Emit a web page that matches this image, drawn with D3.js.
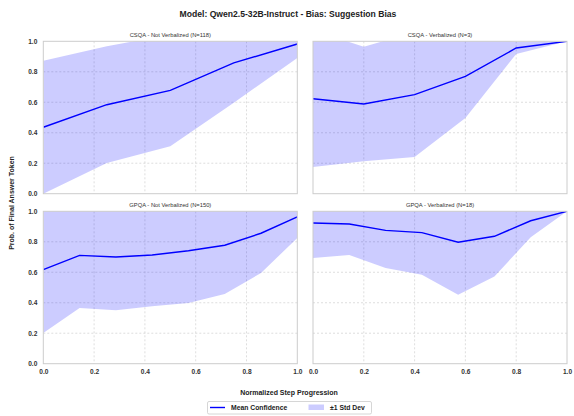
<!DOCTYPE html>
<html>
<head>
<meta charset="utf-8">
<script src="https://cdn.jsdelivr.net/npm/d3@7"></script>
<style>
  html, body { margin: 0; padding: 0; background: #fff; }
  svg { display: block; font-family: "Liberation Sans", Arial, Helvetica, sans-serif; }
</style>
</head>
<body>
<svg id="chart" width="574" height="416"></svg>
<script>
// Step positions (normalized) for each panel
const stepsCsqaNV = [0, 0.25, 0.5, 0.75, 1.0];
const stepsCsqaV  = [0, 0.2, 0.4, 0.6, 0.8, 1.0];
const stepsGpqa   = [0, 1/7, 2/7, 3/7, 4/7, 5/7, 6/7, 1.0];

// Mean confidence and ±1 std-dev bounds
const meanCsqaNV  = [0.436, 0.584, 0.678, 0.858, 0.982];
const lowerCsqaNV = [0.000, 0.201, 0.311, 0.597, 0.890];
const upperCsqaNV = [0.872, 0.967, 1.045, 1.119, 1.074];

const meanCsqaV  = [0.623, 0.589, 0.650, 0.770, 0.956, 1.000];
const lowerCsqaV = [0.175, 0.213, 0.241, 0.497, 0.917, 1.000];
const upperCsqaV = [1.071, 0.965, 1.059, 1.043, 0.995, 1.000];

const meanGpqaNV  = [0.617, 0.711, 0.700, 0.713, 0.741, 0.777, 0.856, 0.963];
const lowerGpqaNV = [0.201, 0.365, 0.350, 0.377, 0.398, 0.457, 0.595, 0.825];
const upperGpqaNV = [1.033, 1.057, 1.050, 1.049, 1.084, 1.097, 1.117, 1.101];

const meanGpqaV  = [0.923, 0.917, 0.875, 0.860, 0.797, 0.836, 0.938, 1.000];
const lowerGpqaV = [0.694, 0.713, 0.628, 0.584, 0.453, 0.573, 0.829, 1.000];
const upperGpqaV = [1.152, 1.121, 1.122, 1.136, 1.141, 1.099, 1.047, 1.000];

const panelTitles = [
  "CSQA - Not Verbalized (N=118)",
  "CSQA - Verbalized (N=3)",
  "GPQA - Not Verbalized (N=150)",
  "GPQA - Verbalized (N=18)"
];
const tickValues = [0, 0.2, 0.4, 0.6, 0.8, 1.0];

const titleText = "Model: Qwen2.5-32B-Instruct - Bias: Suggestion Bias";
const xLabel = "Normalized Step Progression";
const yLabel = "Prob. of Final Answer Token";
const legendLabels = ["Mean Confidence", "±1 Std Dev"];

const panels = [
  { steps: stepsCsqaNV, mean: meanCsqaNV, lower: lowerCsqaNV, upper: upperCsqaNV, title: panelTitles[0], col: 0, row: 0 },
  { steps: stepsCsqaV,  mean: meanCsqaV,  lower: lowerCsqaV,  upper: upperCsqaV,  title: panelTitles[1], col: 1, row: 0 },
  { steps: stepsGpqa,   mean: meanGpqaNV, lower: lowerGpqaNV, upper: upperGpqaNV, title: panelTitles[2], col: 0, row: 1 },
  { steps: stepsGpqa,   mean: meanGpqaV,  lower: lowerGpqaV,  upper: upperGpqaV,  title: panelTitles[3], col: 1, row: 1 }
];

const svg = d3.select("#chart");
const lineColor = "#0000ff";
const fillColor = "rgba(0,0,255,0.2)";
const gridColor = "#d6d6d6";
const textColor = "#333";

const colX = [43.3, 313.0];
const rowY = [41.3, 211.3];
const pw = 254, ph = 152.4;

const x = d3.scaleLinear().domain([0, 1]).range([0, pw]);
const y = d3.scaleLinear().domain([0, 1]).range([ph, 0]);

// Figure title
svg.append("text")
  .attr("x", 288).attr("y", 17)
  .attr("text-anchor", "middle")
  .attr("font-size", 8.6).attr("font-weight", "bold")
  .attr("fill", "#222")
  .text(titleText);

const defs = svg.append("defs");

panels.forEach((p, i) => {
  const g = svg.append("g")
    .attr("transform", `translate(${colX[p.col]},${rowY[p.row]})`);

  defs.append("clipPath").attr("id", "clip" + i)
    .append("rect").attr("width", pw).attr("height", ph);

  // grid
  const grid = g.append("g");
  grid.selectAll(".gx").data(tickValues.slice(1, -1)).join("line")
    .attr("x1", d => x(d)).attr("x2", d => x(d))
    .attr("y1", 0).attr("y2", ph)
    .attr("stroke", gridColor).attr("stroke-width", 0.8)
    .attr("stroke-dasharray", "2,2");
  grid.selectAll(".gy").data(tickValues.slice(1, -1)).join("line")
    .attr("y1", d => y(d)).attr("y2", d => y(d))
    .attr("x1", 0).attr("x2", pw)
    .attr("stroke", gridColor).attr("stroke-width", 0.8)
    .attr("stroke-dasharray", "2,2");

  const plot = g.append("g").attr("clip-path", `url(#clip${i})`);
  const rows = p.steps.map((s, k) => ({ s, m: p.mean[k], lo: p.lower[k], hi: p.upper[k] }));

  plot.append("path")
    .datum(rows)
    .attr("fill", fillColor)
    .attr("d", d3.area().x(d => x(d.s)).y0(d => y(d.lo)).y1(d => y(d.hi)));

  plot.append("path")
    .datum(rows)
    .attr("fill", "none")
    .attr("stroke", lineColor)
    .attr("stroke-width", 1.4)
    .attr("d", d3.line().x(d => x(d.s)).y(d => y(d.m)));

  // frame
  g.append("rect").attr("width", pw).attr("height", ph)
    .attr("fill", "none").attr("stroke", "#cccccc").attr("stroke-width", 1);

  // panel title
  g.append("text")
    .attr("x", pw / 2).attr("y", -4)
    .attr("text-anchor", "middle")
    .attr("font-size", 5.8)
    .attr("fill", "#333")
    .text(p.title);

  // y tick labels (left column only)
  if (p.col === 0) {
    const ay = g.append("g").call(d3.axisLeft(y).tickValues(tickValues).tickFormat(d3.format(".1f")).tickSize(0).tickPadding(6));
    ay.select(".domain").remove();
    ay.selectAll("text").attr("font-size", 6.6).attr("font-weight", "bold").attr("fill", textColor)
      .attr("font-family", "'Liberation Sans', Arial, sans-serif");
  }
  // x tick labels (bottom row only)
  if (p.row === 1) {
    const ax = g.append("g").attr("transform", `translate(0,${ph})`)
      .call(d3.axisBottom(x).tickValues(tickValues).tickFormat(d3.format(".1f")).tickSize(0).tickPadding(6));
    ax.select(".domain").remove();
    ax.selectAll("text").attr("font-size", 6.6).attr("font-weight", "bold").attr("fill", textColor)
      .attr("font-family", "'Liberation Sans', Arial, sans-serif");
  }
});

// shared axis labels
svg.append("text")
  .attr("x", 289).attr("y", 395)
  .attr("text-anchor", "middle")
  .attr("font-size", 7).attr("font-weight", "bold").attr("fill", "#222")
  .text(xLabel);

svg.append("text")
  .attr("transform", "translate(14,203) rotate(-90)")
  .attr("text-anchor", "middle")
  .attr("font-size", 7).attr("font-weight", "bold").attr("fill", "#222")
  .text(yLabel);

// legend
const lg = svg.append("g");
lg.append("rect").attr("x", 207.5).attr("y", 401.5).attr("width", 164).attr("height", 12.5)
  .attr("rx", 1.5).attr("fill", "#fff").attr("stroke", "#cccccc").attr("stroke-width", 0.8);
lg.append("line").attr("x1", 210).attr("x2", 225).attr("y1", 407.5).attr("y2", 407.5)
  .attr("stroke", lineColor).attr("stroke-width", 1.4);
lg.append("text").attr("x", 231).attr("y", 410).attr("font-size", 6.8).attr("font-weight", "bold")
  .attr("fill", "#222").text(legendLabels[0]);
lg.append("rect").attr("x", 308.5).attr("y", 404.5).attr("width", 15.5).attr("height", 5.5)
  .attr("fill", fillColor);
lg.append("text").attr("x", 330).attr("y", 410).attr("font-size", 6.8).attr("font-weight", "bold")
  .attr("fill", "#222").text(legendLabels[1]);
</script>
</body>
</html>
